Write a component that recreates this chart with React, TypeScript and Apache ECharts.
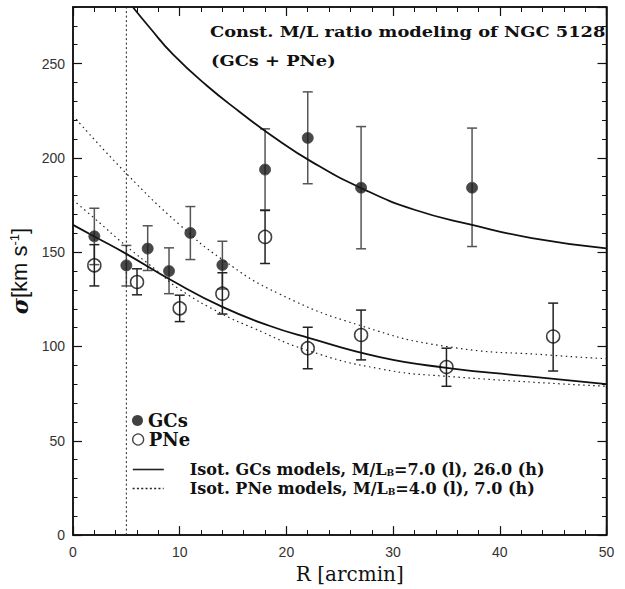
import React, { useEffect, useRef, useState } from "react";
import * as echarts from "echarts";

// GC data (filled circles)
const R_GC = [2, 5, 7, 9, 11, 14, 18, 22, 27, 37.4];
const SIG_GC = [158.4, 143, 151.9, 140, 160.2, 143.2, 193.8, 210.6, 184.2, 184.2];
const GC_LO = [143.4, 132.1, 140.3, 128, 146.1, 130.5, 172.4, 186.3, 151.8, 153];
const GC_HI = [173.3, 153.6, 164, 152.3, 174.2, 155.8, 215.4, 235, 216.6, 215.8];

// PNe data (open circles)
const R_PN = [2, 6, 10, 14, 18, 22, 27, 35, 45];
const SIG_PN = [143, 134.2, 120.2, 128, 158.1, 99.1, 106.1, 89.1, 105.3];
const PN_LO = [132.1, 127.4, 113.2, 117.2, 144, 88.2, 92.9, 78.9, 87];
const PN_HI = [154, 141.2, 127.2, 139.1, 172.1, 110.2, 119.3, 99.1, 123];

// Model curves
const GC_H_R = [5.6, 7.2, 9.35, 12.5, 15.6, 18.7, 22.5, 27, 32, 37.4, 43, 50];
const GC_H_S = [280, 269, 255, 238.5, 224.5, 211.5, 197.5, 184, 172.5, 164.5, 157.5, 152];
const GC_L_R = [0, 2, 5, 9.35, 14, 18.4, 22, 28.75, 35, 42, 50];
const GC_L_S = [164.5, 158.3, 149.1, 134.7, 121, 111, 104.7, 94.4, 88.7, 84.5, 80];
const PN_H_R = [0, 5, 10, 14, 19.4, 27, 35, 45, 50];
const PN_H_S = [222.4, 191.7, 164.5, 146.1, 127.7, 111, 100, 95.3, 93.5];
const PN_L_R = [0, 2, 5, 7.8, 10, 14, 16.8, 22, 28.75, 35, 50];
const PN_L_S = [177.7, 168, 153.2, 140.5, 130.3, 117.2, 110, 97.9, 88.2, 84.2, 78.9];

const R_CORE = 5;
const X_TICKS = [0, 50, 10];
const Y_TICKS = [0, 280, 50, 10];

const zip = (a: number[], b: number[]) => a.map((v, i) => [v, b[i]]);
const zip3 = (a: number[], b: number[], c: number[]) => a.map((v, i) => [v, b[i], c[i]]);

const AX = "#111";
const SERIF = "DejaVu Serif";
const SANS = "Liberation Sans, Arial, sans-serif";

function errRender(color: string) {
  return (params: any, api: any) => {
    const x = api.value(0);
    const lo = api.coord([x, api.value(1)]);
    const hi = api.coord([x, api.value(2)]);
    const hw = 5;
    const st = { stroke: color, lineWidth: 1.5 };
    return {
      type: "group",
      children: [
        { type: "line", shape: { x1: lo[0], y1: lo[1], x2: hi[0], y2: hi[1] }, style: st },
        { type: "line", shape: { x1: lo[0] - hw, y1: lo[1], x2: lo[0] + hw, y2: lo[1] }, style: st },
        { type: "line", shape: { x1: hi[0] - hw, y1: hi[1], x2: hi[0] + hw, y2: hi[1] }, style: st },
      ],
    };
  };
}

function xAxisCfg(pos: string, labels: boolean) {
  const cfg: any = {
    type: "value", position: pos, min: X_TICKS[0], max: X_TICKS[1], interval: X_TICKS[2],
    axisLine: { show: true, onZero: false, lineStyle: { color: AX, width: 1.5 } },
    axisTick: { show: true, inside: true, length: 9, lineStyle: { color: AX, width: 1.2 } },
    minorTick: { show: true, splitNumber: 5, length: 5, lineStyle: { color: AX, width: 1 } },
    axisLabel: { show: labels, color: "#333", fontSize: 14, fontFamily: SANS, margin: 10 },
    splitLine: { show: false }, minorSplitLine: { show: false },
  };
  if (labels) {
    cfg.name = "R [arcmin]";
    cfg.nameLocation = "middle";
    cfg.nameGap = 28;
    cfg.nameTextStyle = { fontFamily: SERIF, fontSize: 20, color: "#111", padding: [0, 0, 0, 20] };
  }
  return cfg;
}

function yAxisCfg(pos: string, major: boolean, labels: boolean) {
  const cfg: any = {
    type: "value", position: pos, min: Y_TICKS[0], max: Y_TICKS[1], interval: major ? Y_TICKS[2] : Y_TICKS[3],
    axisLine: { show: major, onZero: false, lineStyle: { color: AX, width: 1.5 } },
    axisTick: { show: true, inside: true, length: major ? 9 : 4.5, lineStyle: { color: AX, width: major ? 1.2 : 1 } },
    axisLabel: { show: labels, showMaxLabel: false, color: "#333", fontSize: 14, fontFamily: SANS, margin: 8 },
    splitLine: { show: false },
  };
  if (labels) {
    cfg.name = "{g|σ}{n|[km s}{sup|-1}{n|]}";
    cfg.nameLocation = "middle";
    cfg.nameGap = 40;
    cfg.nameRotate = 90;
    cfg.nameTextStyle = {
      color: "#111",
      rich: {
        g: { fontFamily: SERIF, fontStyle: "italic", fontWeight: "bold", fontSize: 22, color: "#111" },
        n: { fontFamily: SANS, fontSize: 22, color: "#111" },
        sup: { fontFamily: SANS, fontSize: 13, color: "#111", padding: [0, 0, 10, 0] },
      },
    };
  }
  return cfg;
}

const txt = (o: any) => ({ align: "left", verticalAlign: "middle", textAlign: "left", textVerticalAlign: "middle", ...o });

const subRich = { sub: { fontFamily: SERIF, fontWeight: "bold", fontSize: 9, color: "#111", padding: [7, 0, 0, 0] } };

function legendCfg(name: string, top: number, w: number, h: number, extra: any) {
  return {
    data: [name], left: 132, top, padding: 0, itemWidth: w, itemHeight: h, selectedMode: false, ...extra,
  };
}

export default function App() {
  const ref = useRef<HTMLDivElement>(null);
  const [, setReady] = useState(0);
  useEffect(() => {
    if (!ref.current) return;
    const chart = echarts.init(ref.current, null, { renderer: "svg" });
    const titleFont = { fontFamily: SERIF, fontWeight: "bold", fontSize: 15.5, fill: "#111" };
    const bigText = { fontFamily: SERIF, fontWeight: "bold", fontSize: 18, color: "#111" };
    const legText = { fontFamily: SERIF, fontWeight: "bold", fontSize: 16, color: "#111", padding: [0, 0, 0, 21], rich: subRich };
    const hideSym = { color: "rgba(0,0,0,0)", borderColor: "rgba(0,0,0,0)", borderWidth: 0, opacity: 0 };
    try {
      chart.setOption({
        animation: false,
        grid: { left: 73, right: 18.5, top: 7, bottom: 49.5, show: true, borderColor: AX, borderWidth: 1.5, backgroundColor: "rgba(0,0,0,0)" },
        xAxis: [xAxisCfg("bottom", true), xAxisCfg("top", false)],
        yAxis: [yAxisCfg("left", true, true), yAxisCfg("left", false, false), yAxisCfg("right", true, false), yAxisCfg("right", false, false)],
        legend: [
          legendCfg("GCs", 411.5, 11, 11, { icon: "circle", textStyle: bigText, itemStyle: { color: "#111", borderWidth: 0 } }),
          legendCfg("PNe", 430.5, 11, 11, { icon: "circle", textStyle: bigText, itemStyle: { color: "rgba(0,0,0,0)", borderColor: "#111", borderWidth: 1.3 } }),
          legendCfg("GC models", 461.5, 31, 14, {
            formatter: () => "Isot. GCs models, M/L{sub|B}=7.0 (l), 26.0 (h)", textStyle: legText,
            lineStyle: { color: "#222", width: 1.6 }, itemStyle: hideSym,
          }),
          legendCfg("PN models", 480.5, 31, 14, {
            formatter: () => "Isot. PNe models, M/L{sub|B}=4.0 (l), 7.0 (h)", textStyle: legText,
            lineStyle: { color: "#222", width: 1.3, type: [2, 2.3] }, itemStyle: hideSym,
          }),
        ],
        series: [
          { type: "line", data: [[R_CORE, Y_TICKS[0]], [R_CORE, Y_TICKS[1]]], symbol: "none", lineStyle: { color: "#222", width: 1, type: [2, 2.5] }, silent: true },
          { name: "GC models", type: "line", data: zip(GC_H_R, GC_H_S), smooth: true, symbol: "none", lineStyle: { color: "#111", width: 1.8 }, itemStyle: { color: "#111" } },
          { type: "line", data: zip(GC_L_R, GC_L_S), smooth: true, symbol: "none", lineStyle: { color: "#111", width: 1.8 } },
          { name: "PN models", type: "line", data: zip(PN_H_R, PN_H_S), smooth: true, symbol: "none", lineStyle: { color: "#222", width: 1.2, type: [1.5, 3.5] }, itemStyle: { color: "#222" } },
          { type: "line", data: zip(PN_L_R, PN_L_S), smooth: true, symbol: "none", lineStyle: { color: "#222", width: 1.2, type: [1.5, 3.5] } },
          { type: "custom", renderItem: errRender("#555"), data: zip3(R_GC, GC_LO, GC_HI), encode: { x: 0, y: [1, 2] }, z: 3 },
          { type: "custom", renderItem: errRender("#222"), data: zip3(R_PN, PN_LO, PN_HI), encode: { x: 0, y: [1, 2] }, z: 3 },
          { name: "GCs", type: "scatter", data: zip(R_GC, SIG_GC), symbol: "circle", symbolSize: 11, itemStyle: { color: "#1a1a1a", borderColor: "#444", borderWidth: 1 }, z: 5 },
          { name: "PNe", type: "scatter", data: zip(R_PN, SIG_PN), symbol: "circle", symbolSize: 13, itemStyle: { color: "rgba(0,0,0,0)", borderColor: "#111", borderWidth: 1.5 }, z: 5 },
        ],
        graphic: [
          { type: "text", x: 210, y: 31, scaleX: 1.15, style: txt({ ...titleFont, text: "Const. M/L ratio modeling of NGC 5128" }) },
          { type: "text", x: 211, y: 60, scaleX: 1.15, style: txt({ ...titleFont, text: "(GCs + PNe)" }) },
        ],
      });
    } catch (e) {
      // keep whatever was drawn
    }
    const t = setTimeout(() => setReady(1), 50);
    return () => { clearTimeout(t); chart.dispose(); };
  }, []);
  return (
    <div>
      <div ref={ref} style={{ width: 625, height: 589, position: "absolute", left: 0, top: 0 }} />
    </div>
  );
}
